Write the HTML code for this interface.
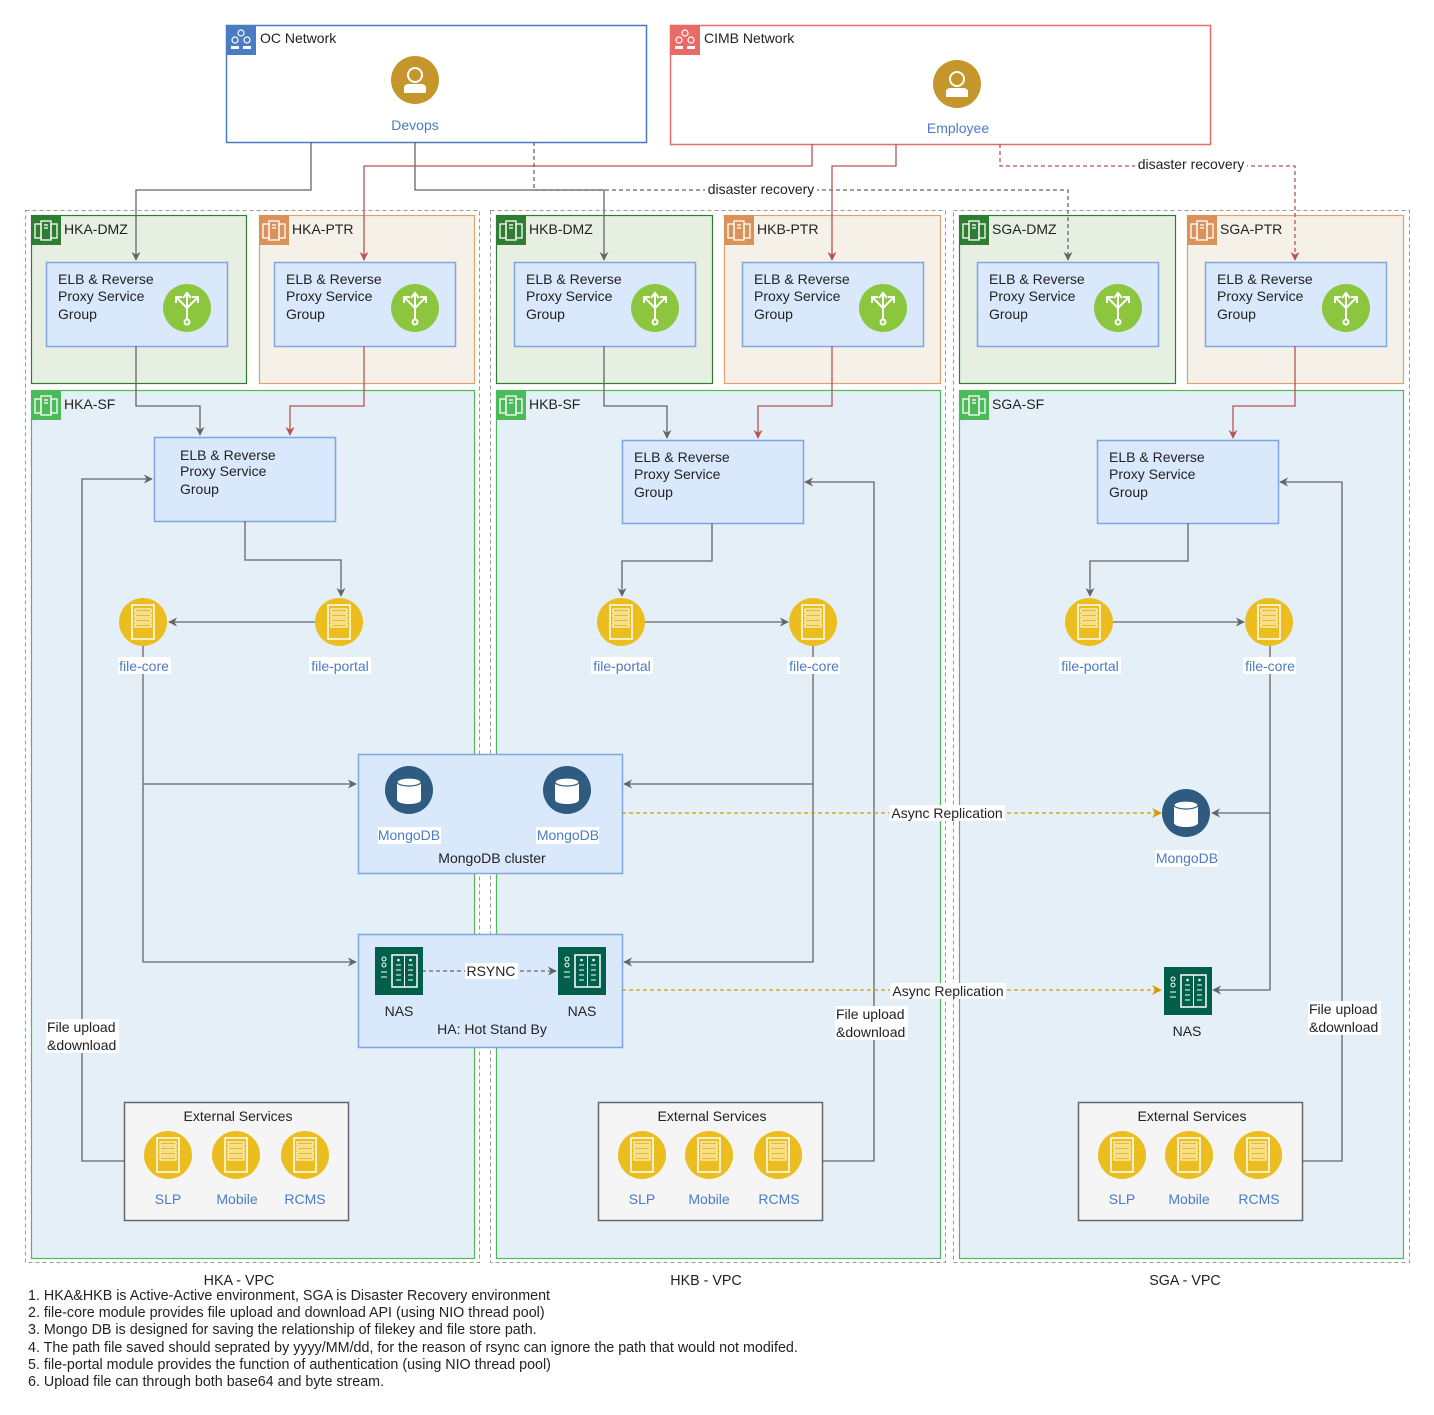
<!DOCTYPE html>
<html><head><meta charset="utf-8"><style>
html,body{margin:0;padding:0;background:#fff;}
svg{display:block;font-family:"Liberation Sans",Arial,sans-serif;}
.t{font-size:14px;fill:#222;}
.b{font-size:14px;fill:#4a7cc4;}
.n{font-size:13px;fill:#222;}
.m{font-size:14.3px;fill:#222;}
</style></head><body>
<svg width="1434" height="1415" viewBox="0 0 1434 1415" xmlns="http://www.w3.org/2000/svg">
<defs>
<marker id="ag" viewBox="0 0 10 10" refX="9" refY="5" markerWidth="9" markerHeight="9" orient="auto-start-reverse" markerUnits="userSpaceOnUse"><path d="M0,0 L10,5 L0,10 L3,5 z" fill="#666"/></marker>
<marker id="ar" viewBox="0 0 10 10" refX="9" refY="5" markerWidth="9" markerHeight="9" orient="auto" markerUnits="userSpaceOnUse"><path d="M0,0 L10,5 L0,10 L3,5 z" fill="#b85450"/></marker>
<marker id="ao" viewBox="0 0 10 10" refX="9" refY="5" markerWidth="10" markerHeight="10" orient="auto" markerUnits="userSpaceOnUse"><path d="M0,0 L10,5 L0,10 L3,5 z" fill="#d79b00"/></marker>
<symbol id="srv" viewBox="-24 -24 48 48"><circle r="24" fill="#ebbd1e"/><rect x="-11" y="-17" width="22" height="34" fill="none" stroke="#fff" stroke-width="1.5"/><rect x="-8" y="-13" width="16" height="3" fill="none" stroke="#fff"/><rect x="-8" y="-8" width="16" height="3" fill="none" stroke="#fff"/><rect x="-8" y="-3" width="16" height="3" fill="none" stroke="#fff"/><rect x="-8" y="2" width="16" height="3" fill="none" stroke="#fff"/></symbol>
<symbol id="mdb" viewBox="-24 -24 48 48"><circle r="24" fill="#2f5b80"/><path d="M-12,-8 L-12,10 A12,4 0 0 0 12,10 L12,-8 Z" fill="#fff"/><ellipse cx="0" cy="-8" rx="12" ry="4" fill="#fff" stroke="#2f5b80" stroke-width="1.2"/></symbol>
<symbol id="nas" viewBox="0 0 48 48"><rect width="48" height="48" fill="#005f4a"/><circle cx="9" cy="12" r="2" fill="none" stroke="#fff"/><circle cx="9" cy="18" r="2" fill="none" stroke="#fff"/><line x1="6" y1="25" x2="12" y2="25" stroke="#fff"/><line x1="6" y1="30" x2="12" y2="30" stroke="#fff"/><rect x="17" y="8" width="25" height="32" fill="none" stroke="#fff" stroke-width="1.5"/><line x1="29.5" y1="8" x2="29.5" y2="40" stroke="#fff"/><g stroke="#fff"><line x1="21" y1="18" x2="26" y2="18"/><line x1="21" y1="23" x2="26" y2="23"/><line x1="21" y1="28" x2="26" y2="28"/><line x1="21" y1="33" x2="26" y2="33"/><line x1="33" y1="18" x2="38" y2="18"/><line x1="33" y1="23" x2="38" y2="23"/><line x1="33" y1="28" x2="38" y2="28"/><line x1="33" y1="33" x2="38" y2="33"/></g><circle cx="23.5" cy="13" r="1.3" fill="#fff"/><circle cx="35.5" cy="13" r="1.3" fill="#fff"/></symbol>
<symbol id="elb" viewBox="-24 -24 48 48"><circle r="24" fill="#8cc63f"/><g stroke="#fff" stroke-width="2" fill="none"><line x1="0" y1="-14" x2="0" y2="12"/><line x1="0" y1="0" x2="-10" y2="-10"/><line x1="0" y1="0" x2="10" y2="-10"/><path d="M-4,-10 L0,-15 L4,-10"/><path d="M-11,-5 L-11,-11 L-5,-11"/><path d="M11,-5 L11,-11 L5,-11"/><circle cx="0" cy="14" r="2.5"/></g></symbol>
<symbol id="per" viewBox="-24 -24 48 48"><circle r="24" fill="#c4962c"/><circle cx="0" cy="-5" r="7" fill="none" stroke="#fff" stroke-width="2"/><path d="M-11,13 L-11,8 Q-11,4 -6,4 L6,4 Q11,4 11,8 L11,13 Z" fill="#fff"/></symbol>
<symbol id="zi" viewBox="0 0 30 30"><g fill="none" stroke="#fff" stroke-width="1.3"><rect x="4" y="9" width="6" height="14"/><rect x="20" y="9" width="6" height="14"/><rect x="10" y="6" width="10" height="19"/><line x1="13" y1="10" x2="17" y2="10"/><line x1="13" y1="13" x2="17" y2="13"/></g></symbol>
</defs>

<rect x="226.5" y="25.5" width="420" height="117" fill="#fff" stroke="#4a7cc4" stroke-width="1.5"/>
<rect x="226" y="25" width="30" height="30" fill="#4a7cc4"/>
<g fill="none" stroke="#fff" stroke-width="1.2"><circle cx="241" cy="33" r="3"/><circle cx="235" cy="40" r="3"/><circle cx="247" cy="40" r="3"/></g><rect x="231" y="46" width="8" height="3" fill="#fff"/><rect x="243" y="46" width="8" height="3" fill="#fff"/>
<text x="260" y="43" class="t">OC Network</text>
<use href="#per" x="391" y="56" width="48" height="48"/>
<text x="415" y="130" class="b" text-anchor="middle">Devops</text>

<rect x="670.5" y="25.5" width="540" height="119" fill="#fff" stroke="#ea6b66" stroke-width="1.5"/>
<rect x="670" y="25" width="30" height="30" fill="#ea6b66"/>
<g fill="none" stroke="#fff" stroke-width="1.2"><circle cx="685" cy="33" r="3"/><circle cx="679" cy="40" r="3"/><circle cx="691" cy="40" r="3"/></g><rect x="675" y="46" width="8" height="3" fill="#fff"/><rect x="687" y="46" width="8" height="3" fill="#fff"/>
<text x="704" y="43" class="t">CIMB Network</text>
<use href="#per" x="933" y="60" width="48" height="48"/>
<text x="958" y="133" class="b" text-anchor="middle">Employee</text>

<g fill="none" stroke="#999" stroke-dasharray="4,3">
<rect x="25.5" y="210.5" width="454" height="1052"/>
<rect x="490.5" y="210.5" width="455" height="1052"/>
<rect x="953.5" y="210.5" width="456" height="1052"/>
</g>

<g stroke-width="1.2">
<rect x="31.5" y="215.5" width="215" height="168" fill="#e6efe1" stroke="#2e7d32"/>
<rect x="259.5" y="215.5" width="215" height="168" fill="#f5f1e8" stroke="#e0a070"/>
<rect x="496.5" y="215.5" width="216" height="168" fill="#e6efe1" stroke="#2e7d32"/>
<rect x="724.5" y="215.5" width="216" height="168" fill="#f5f1e8" stroke="#e0a070"/>
<rect x="959.5" y="215.5" width="216" height="168" fill="#e6efe1" stroke="#2e7d32"/>
<rect x="1187.5" y="215.5" width="216" height="168" fill="#f5f1e8" stroke="#e0a070"/>
<rect x="31.5" y="390.5" width="443" height="868" fill="#e5eff7" stroke="#4cba5a"/>
<rect x="496.5" y="390.5" width="444" height="868" fill="#e5eff7" stroke="#4cba5a"/>
<rect x="959.5" y="390.5" width="444" height="868" fill="#e5eff7" stroke="#4cba5a"/>
</g>
<g>
<rect x="31" y="215" width="30" height="30" fill="#2e7d32"/><use href="#zi" x="31" y="215" width="30" height="30"/>
<rect x="259" y="215" width="30" height="30" fill="#d9925a"/><use href="#zi" x="259" y="215" width="30" height="30"/>
<rect x="496" y="215" width="30" height="30" fill="#2e7d32"/><use href="#zi" x="496" y="215" width="30" height="30"/>
<rect x="724" y="215" width="30" height="30" fill="#d9925a"/><use href="#zi" x="724" y="215" width="30" height="30"/>
<rect x="959" y="215" width="30" height="30" fill="#2e7d32"/><use href="#zi" x="959" y="215" width="30" height="30"/>
<rect x="1187" y="215" width="30" height="30" fill="#d9925a"/><use href="#zi" x="1187" y="215" width="30" height="30"/>
<rect x="31" y="390" width="30" height="30" fill="#4cba5a"/><use href="#zi" x="31" y="390" width="30" height="30"/>
<rect x="496" y="390" width="30" height="30" fill="#4cba5a"/><use href="#zi" x="496" y="390" width="30" height="30"/>
<rect x="959" y="390" width="30" height="30" fill="#4cba5a"/><use href="#zi" x="959" y="390" width="30" height="30"/>
</g>
<g class="t">
<text x="64" y="234" class="t">HKA-DMZ</text><text x="292" y="234" class="t">HKA-PTR</text>
<text x="529" y="234" class="t">HKB-DMZ</text><text x="757" y="234" class="t">HKB-PTR</text>
<text x="992" y="234" class="t">SGA-DMZ</text><text x="1220" y="234" class="t">SGA-PTR</text>
<text x="64" y="409" class="t">HKA-SF</text><text x="529" y="409" class="t">HKB-SF</text><text x="992" y="409" class="t">SGA-SF</text>
</g>

<g fill="#dae8fc" stroke="#7ea6e0" stroke-width="1.5">
<rect x="46.5" y="262.5" width="181" height="84"/><rect x="274.5" y="262.5" width="181" height="84"/>
<rect x="514.5" y="262.5" width="181" height="84"/><rect x="742.5" y="262.5" width="181" height="84"/>
<rect x="977.5" y="262.5" width="181" height="84"/><rect x="1205.5" y="262.5" width="181" height="84"/>
<rect x="154.5" y="437.5" width="181" height="84"/><rect x="622.5" y="440.5" width="181" height="83"/><rect x="1097.5" y="440.5" width="181" height="83"/>
<rect x="358.5" y="754.5" width="264" height="119"/><rect x="358.5" y="934.5" width="264" height="113"/>
</g>
<g fill="#f5f5f5" stroke="#666" stroke-width="1.5">
<rect x="124.5" y="1102.5" width="224" height="118"/><rect x="598.5" y="1102.5" width="224" height="118"/><rect x="1078.5" y="1102.5" width="224" height="118"/>
</g>
<g class="t">
<text x="58" y="284" class="t">ELB &amp; Reverse</text><text x="58" y="301" class="t">Proxy Service</text><text x="58" y="319" class="t">Group</text>
<text x="286" y="284" class="t">ELB &amp; Reverse</text><text x="286" y="301" class="t">Proxy Service</text><text x="286" y="319" class="t">Group</text>
<text x="526" y="284" class="t">ELB &amp; Reverse</text><text x="526" y="301" class="t">Proxy Service</text><text x="526" y="319" class="t">Group</text>
<text x="754" y="284" class="t">ELB &amp; Reverse</text><text x="754" y="301" class="t">Proxy Service</text><text x="754" y="319" class="t">Group</text>
<text x="989" y="284" class="t">ELB &amp; Reverse</text><text x="989" y="301" class="t">Proxy Service</text><text x="989" y="319" class="t">Group</text>
<text x="1217" y="284" class="t">ELB &amp; Reverse</text><text x="1217" y="301" class="t">Proxy Service</text><text x="1217" y="319" class="t">Group</text>
<text x="180" y="460" class="t">ELB &amp; Reverse</text><text x="180" y="476" class="t">Proxy Service</text><text x="180" y="494" class="t">Group</text>
<text x="634" y="462" class="t">ELB &amp; Reverse</text><text x="634" y="479" class="t">Proxy Service</text><text x="634" y="497" class="t">Group</text>
<text x="1109" y="462" class="t">ELB &amp; Reverse</text><text x="1109" y="479" class="t">Proxy Service</text><text x="1109" y="497" class="t">Group</text>
</g>
<use href="#elb" x="163" y="284" width="48" height="48"/><use href="#elb" x="391" y="284" width="48" height="48"/>
<use href="#elb" x="631" y="284" width="48" height="48"/><use href="#elb" x="859" y="284" width="48" height="48"/>
<use href="#elb" x="1094" y="284" width="48" height="48"/><use href="#elb" x="1322" y="284" width="48" height="48"/>

<g fill="none" stroke="#666" stroke-width="1.3">
<path d="M311,142 V190 H136 V260" marker-end="url(#ag)"/>
<path d="M415,142 V190 H604 V260" marker-end="url(#ag)"/>
<path d="M534,142 V190 H1068 V260" stroke-dasharray="4,3" marker-end="url(#ag)"/>
</g>
<g fill="none" stroke="#b85450" stroke-width="1.3">
<path d="M812,144 V166 H364 V260" marker-end="url(#ar)"/>
<path d="M896,144 V166 H832 V260" marker-end="url(#ar)"/>
<path d="M1000,144 V166 H1295 V260" stroke-dasharray="4,3" marker-end="url(#ar)"/>
</g>
<rect x="705" y="181" width="112" height="16" fill="#fff"/><text x="761" y="194" class="t" text-anchor="middle">disaster recovery</text>
<rect x="1135" y="156" width="112" height="16" fill="#fff"/><text x="1191" y="169" class="t" text-anchor="middle">disaster recovery</text>

<g fill="none" stroke="#666" stroke-width="1.3">
<path d="M136,346 V406 H200 V435" marker-end="url(#ag)"/>
<path d="M604,346 V406 H667 V438" marker-end="url(#ag)"/>
<path d="M245,521 V560 H341 V596" marker-end="url(#ag)"/>
<path d="M712,523 V561 H622 V596" marker-end="url(#ag)"/>
<path d="M1188,523 V561 H1090 V596" marker-end="url(#ag)"/>
<path d="M315,622 H169" marker-end="url(#ag)"/>
<path d="M645,622 H788" marker-end="url(#ag)"/>
<path d="M1113,622 H1244" marker-end="url(#ag)"/>
<path d="M143,646 V962 H356" marker-end="url(#ag)"/>
<path d="M143,784 H356" marker-end="url(#ag)"/>
<path d="M813,646 V962 H624" marker-end="url(#ag)"/>
<path d="M813,784 H624" marker-end="url(#ag)"/>
<path d="M1270,646 V990 H1213" marker-end="url(#ag)"/>
<path d="M1270,813 H1212" marker-end="url(#ag)"/>
<path d="M124,1161 H82 V479 H152" marker-end="url(#ag)"/>
<path d="M822,1161 H874 V482 H805" marker-end="url(#ag)"/>
<path d="M1302,1161 H1342 V482 H1280" marker-end="url(#ag)"/>
<path d="M422,971 H556" stroke-dasharray="4,3" marker-end="url(#ag)"/>
</g>
<g fill="none" stroke="#b85450" stroke-width="1.3">
<path d="M364,346 V406 H290 V435" marker-end="url(#ar)"/>
<path d="M832,346 V406 H758 V438" marker-end="url(#ar)"/>
<path d="M1295,346 V406 H1233 V438" marker-end="url(#ar)"/>
</g>
<g fill="none" stroke="#d79b00" stroke-width="1.3" stroke-dasharray="4,3">
<path d="M622,813 H1161" marker-end="url(#ao)"/>
<path d="M622,990 H1161" marker-end="url(#ao)"/>
</g>
<rect x="889" y="805" width="116" height="16" fill="#fff"/><text x="947" y="818" class="t" text-anchor="middle">Async Replication</text>
<rect x="890" y="983" width="116" height="16" fill="#fff"/><text x="948" y="996" class="t" text-anchor="middle">Async Replication</text>
<rect x="465" y="963" width="53" height="16" fill="#fff"/><text x="491" y="976" class="t" text-anchor="middle">RSYNC</text>
<rect x="46" y="1019" width="73" height="34" fill="#fff"/><text x="47" y="1032" class="t">File upload</text><text x="47" y="1050" class="t">&amp;download</text>
<rect x="835" y="1006" width="73" height="34" fill="#fff"/><text x="836" y="1019" class="t">File upload</text><text x="836" y="1037" class="t">&amp;download</text>
<rect x="1308" y="1001" width="73" height="34" fill="#fff"/><text x="1309" y="1014" class="t">File upload</text><text x="1309" y="1032" class="t">&amp;download</text>

<use href="#srv" x="119" y="598" width="48" height="48"/><use href="#srv" x="315" y="598" width="48" height="48"/>
<use href="#srv" x="597" y="598" width="48" height="48"/><use href="#srv" x="789" y="598" width="48" height="48"/>
<use href="#srv" x="1065" y="598" width="48" height="48"/><use href="#srv" x="1245" y="598" width="48" height="48"/>
<g>
<rect x="118" y="657" width="53" height="17" fill="#fff"/><text x="144" y="671" class="b" text-anchor="middle">file-core</text>
<rect x="309" y="657" width="62" height="17" fill="#fff"/><text x="340" y="671" class="b" text-anchor="middle">file-portal</text>
<rect x="591" y="657" width="62" height="17" fill="#fff"/><text x="622" y="671" class="b" text-anchor="middle">file-portal</text>
<rect x="787" y="657" width="53" height="17" fill="#fff"/><text x="814" y="671" class="b" text-anchor="middle">file-core</text>
<rect x="1059" y="657" width="62" height="17" fill="#fff"/><text x="1090" y="671" class="b" text-anchor="middle">file-portal</text>
<rect x="1243" y="657" width="53" height="17" fill="#fff"/><text x="1270" y="671" class="b" text-anchor="middle">file-core</text>
</g>

<use href="#mdb" x="385" y="766" width="48" height="48"/><use href="#mdb" x="543" y="766" width="48" height="48"/>
<use href="#mdb" x="1162" y="789" width="48" height="48"/>
<rect x="378" y="827" width="63" height="17" fill="#fff"/><text x="409" y="840" class="b" text-anchor="middle">MongoDB</text>
<rect x="536" y="827" width="63" height="17" fill="#fff"/><text x="568" y="840" class="b" text-anchor="middle">MongoDB</text>
<rect x="1155" y="850" width="63" height="17" fill="#fff"/><text x="1187" y="863" class="b" text-anchor="middle">MongoDB</text>
<text x="492" y="863" class="t" text-anchor="middle">MongoDB cluster</text>
<use href="#nas" x="375" y="947" width="48" height="48"/><use href="#nas" x="558" y="947" width="48" height="48"/>
<use href="#nas" x="1164" y="967" width="48" height="48"/>
<text x="399" y="1016" class="t" text-anchor="middle">NAS</text><text x="582" y="1016" class="t" text-anchor="middle">NAS</text>
<text x="1187" y="1036" class="t" text-anchor="middle">NAS</text>
<text x="492" y="1034" class="t" text-anchor="middle">HA: Hot Stand By</text>

<text x="238" y="1121" class="t" text-anchor="middle">External Services</text>
<text x="712" y="1121" class="t" text-anchor="middle">External Services</text>
<text x="1192" y="1121" class="t" text-anchor="middle">External Services</text>
<use href="#srv" x="144" y="1131" width="48" height="48"/><use href="#srv" x="212" y="1131" width="48" height="48"/><use href="#srv" x="281" y="1131" width="48" height="48"/>
<use href="#srv" x="618" y="1131" width="48" height="48"/><use href="#srv" x="685" y="1131" width="48" height="48"/><use href="#srv" x="754" y="1131" width="48" height="48"/>
<use href="#srv" x="1098" y="1131" width="48" height="48"/><use href="#srv" x="1165" y="1131" width="48" height="48"/><use href="#srv" x="1234" y="1131" width="48" height="48"/>
<g class="b" text-anchor="middle">
<text x="168" y="1204" class="b">SLP</text><text x="237" y="1204" class="b">Mobile</text><text x="305" y="1204" class="b">RCMS</text>
<text x="642" y="1204" class="b">SLP</text><text x="709" y="1204" class="b">Mobile</text><text x="779" y="1204" class="b">RCMS</text>
<text x="1122" y="1204" class="b">SLP</text><text x="1189" y="1204" class="b">Mobile</text><text x="1259" y="1204" class="b">RCMS</text>
</g>

<text x="239" y="1285" class="m" text-anchor="middle">HKA - VPC</text>
<text x="706" y="1285" class="m" text-anchor="middle">HKB - VPC</text>
<text x="1185" y="1285" class="m" text-anchor="middle">SGA - VPC</text>
<g>
<text x="28" y="1300" class="m">1. HKA&amp;HKB is Active-Active environment, SGA is Disaster Recovery environment</text>
<text x="28" y="1317" class="m">2. file-core module provides file upload and download API (using NIO thread pool)</text>
<text x="28" y="1334" class="m">3. Mongo DB is designed for saving the relationship of filekey and file store path.</text>
<text x="28" y="1352" class="m">4. The path file saved should seprated by yyyy/MM/dd, for the reason of rsync can ignore the path that would not modifed.</text>
<text x="28" y="1369" class="m">5. file-portal module provides the function of authentication (using NIO thread pool)</text>
<text x="28" y="1386" class="m">6. Upload file can through both base64 and byte stream.</text>
</g>
</svg>
</body></html>
